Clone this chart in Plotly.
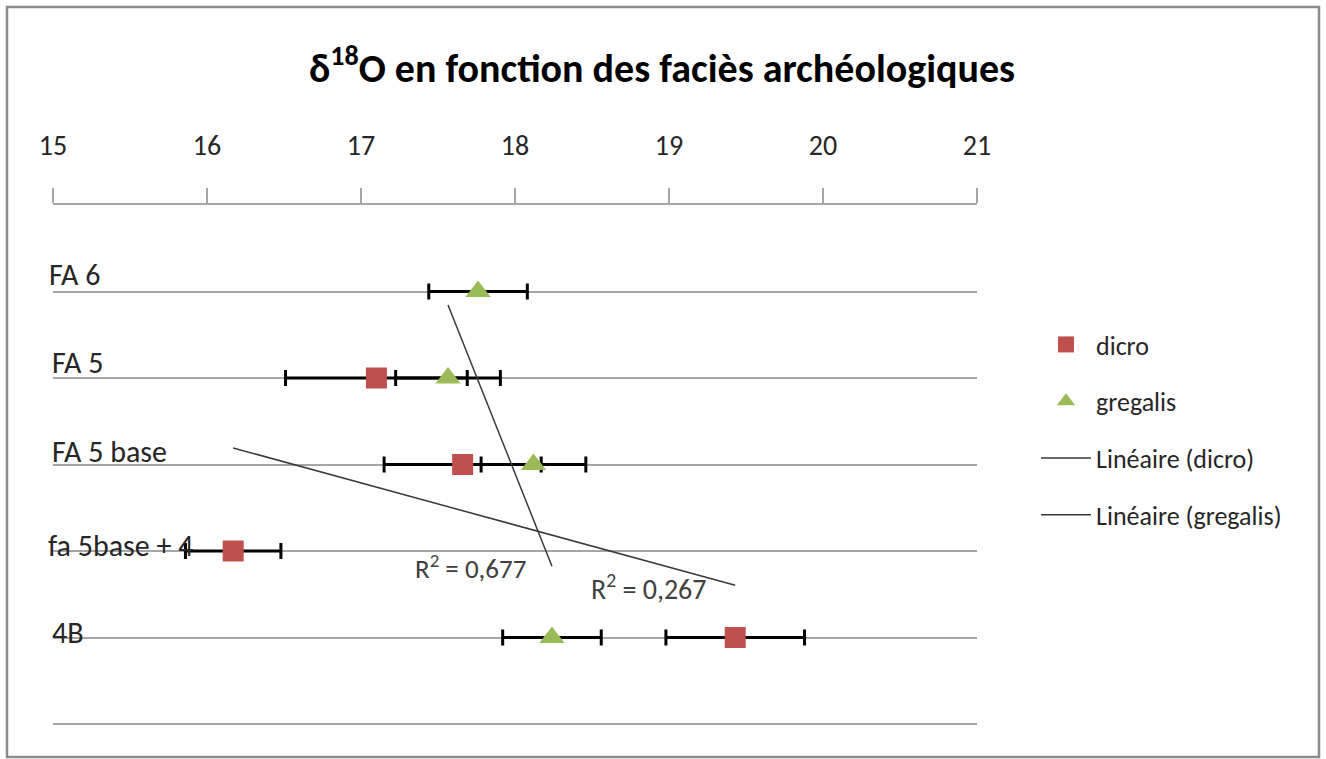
import numpy as np
import plotly.graph_objects as go

# Archaeological facies, one per horizontal row (row index 5 at the top)
facies = ["FA 6", "FA 5", "FA 5 base", "fa 5base + 4", "4B"]
rows = [5, 4, 3, 2, 1]

# dicro: delta18O mean and error, per facies (None where no sample)
dicro_x = [None, 17.10, 17.66, 16.17, 19.43]
dicro_err = [None, 0.59, 0.51, 0.31, 0.45]

# gregalis: delta18O mean and error, per facies
gregalis_x = [17.76, 17.565, 18.12, None, 18.24]
gregalis_err = [0.32, 0.34, 0.34, None, 0.32]

r2_text = {"dicro": "R<sup>2</sup> = 0,267", "gregalis": "R<sup>2</sup> = 0,677"}

x_ticks = [15, 16, 17, 18, 19, 20, 21]

FONT = "Calibri, Carlito, Lato, sans-serif"
RED = "#C0504D"
GREEN = "#9BBB59"
GRID = "#A6A6A6"


def present(xs, errs):
    pts = [(x, y, e) for x, y, e in zip(xs, rows, errs) if x is not None]
    return [p[0] for p in pts], [p[1] for p in pts], [p[2] for p in pts]


fig = go.Figure()

dx, dy, de = present(dicro_x, dicro_err)
gx, gy, ge = present(gregalis_x, gregalis_err)

fig.add_trace(go.Scatter(
    x=dx, y=dy, mode="markers", name="dicro", legendgroup="a",
    marker=dict(symbol="square", size=21, color=RED),
    error_x=dict(type="data", array=de, color="black", thickness=3, width=8),
))
fig.add_trace(go.Scatter(
    x=gx, y=gy, mode="markers", name="gregalis", legendgroup="b",
    marker=dict(symbol="triangle-up", size=22, color=GREEN),
    error_x=dict(type="data", array=ge, color="black", thickness=3, width=8),
))


def trend(xs, ys):
    xs = np.asarray(xs, float)
    ys = np.asarray(ys, float)
    slope, icpt = np.polyfit(xs, ys, 1)
    xe = np.array([xs.min(), xs.max()])
    return xe, slope * xe + icpt


tdx, tdy = trend(dx, dy)
tgx, tgy = trend(gx, gy)

fig.add_trace(go.Scatter(
    x=tdx, y=tdy, mode="lines", name="Linéaire (dicro)", legendgroup="c",
    line=dict(color="#3A3A3A", width=1.5),
))
fig.add_trace(go.Scatter(
    x=tgx, y=tgy, mode="lines", name="Linéaire (gregalis)", legendgroup="d",
    line=dict(color="#3A3A3A", width=1.5),
))

# R² labels beside the lower end of each trend line
fig.add_annotation(x=tgx[1], y=tgy[1], text=r2_text["gregalis"], showarrow=False,
                   xanchor="right", yanchor="middle", xshift=-24, yshift=-1,
                   font=dict(family=FONT, size=27, color="#404040"))
fig.add_annotation(x=tdx[1], y=tdy[1], text=r2_text["dicro"], showarrow=False,
                   xanchor="right", yanchor="middle", xshift=-26, yshift=-2,
                   font=dict(family=FONT, size=28, color="#404040"))

# Facies names written just above their row lines
label_shift = {"FA 6": (-6, 17), "FA 5": (-3, 16), "FA 5 base": (-3, 13),
               "fa 5base + 4": (-7, 6), "4B": (-3, 5)}
for name, r in zip(facies, rows):
    sx, sy = label_shift[name]
    fig.add_annotation(x=15, y=r, text=name, showarrow=False,
                       xanchor="left", yanchor="middle", xshift=sx, yshift=sy,
                       font=dict(family=FONT, size=30, color="#262626"))

# Lowest row line (bottom edge of the plotting area)
fig.add_shape(type="line", xref="paper", yref="paper", x0=0, x1=1, y0=0, y1=0,
              line=dict(color=GRID, width=2), layer="below")

# Chart frame
fig.add_shape(type="rect", xref="paper", yref="paper",
              x0=(7 - 53) / 924, x1=(1319 - 53) / 924,
              y0=(724 - 757) / 519, y1=(724 - 7) / 519,
              line=dict(color="#8C8C8C", width=2.5), layer="below")

fig.update_layout(
    width=1326, height=759,
    margin=dict(l=53, r=349, t=205, b=35),
    paper_bgcolor="white", plot_bgcolor="white",
    title=dict(text="<b>δ<sup>18</sup>O en fonction des faciès archéologiques</b>",
               x=(662 / 1326), xref="container", xanchor="center",
               y=(759 - 68) / 759, yanchor="middle",
               font=dict(family=FONT, size=40, color="black")),
    font=dict(family=FONT, color="#262626"),
    showlegend=True,
    legend=dict(x=(1036 - 53) / 924, y=(724 - 321) / 519, xanchor="left", yanchor="top",
                font=dict(family=FONT, size=26, color="#262626"),
                tracegroupgap=20, itemwidth=50, bgcolor="rgba(0,0,0,0)"),
    xaxis=dict(side="top", range=[15, 21], tickvals=x_ticks,
               ticks="outside", ticklen=15, tickwidth=1.5, tickcolor=GRID,
               showline=True, linecolor=GRID, linewidth=2,
               showgrid=False, zeroline=False, ticklabelstandoff=22,
               tickfont=dict(family=FONT, size=28, color="#262626")),
    yaxis=dict(range=[0, 6], tickvals=[1, 2, 3, 4, 5], showticklabels=False,
               showgrid=True, gridcolor=GRID, gridwidth=2, zeroline=False,
               showline=False, fixedrange=True),
)

fig.write_html("out.html")
